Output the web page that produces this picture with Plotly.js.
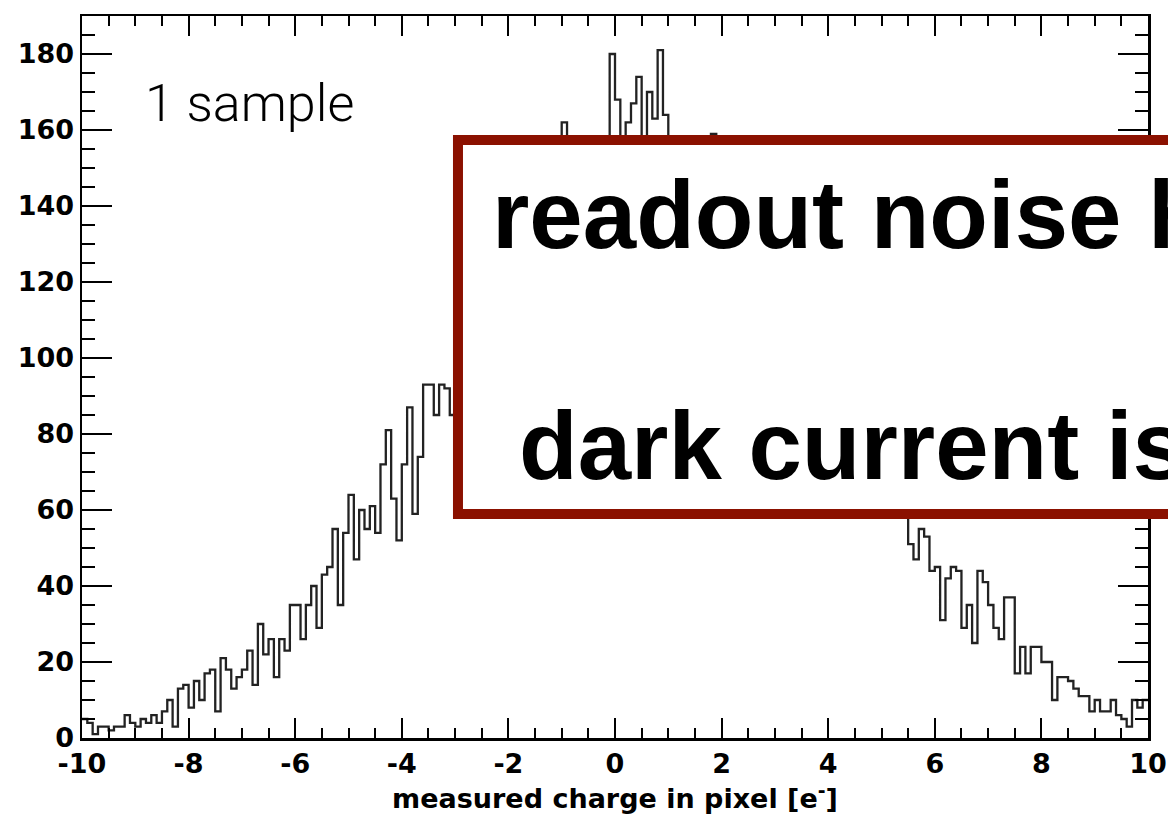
<!DOCTYPE html>
<html>
<head>
<meta charset="utf-8">
<script src="https://cdn.plot.ly/plotly-3.0.1.min.js"></script>
<style>
html,body{margin:0;padding:0;background:#fff;}
#chart{width:1168px;height:814px;}
</style>
</head>
<body>
<div id="chart"></div>
<script>
// Histogram definition: 200 bins from -10 to 10 e-
const binLow = -10;
const binHigh = 10;
// Counts per bin (left to right)
const counts = [
  5, 4, 1, 3, 3, 2, 3, 3, 6, 4,
  3, 5, 4, 6, 4, 7, 10, 3, 13, 14,
  8, 15, 10, 17, 18, 7, 21, 18, 13, 16,
  18, 23, 14, 30, 22, 26, 16, 26, 23, 35,
  35, 26, 35, 40, 29, 43, 45, 55, 35, 54,
  64, 47, 60, 55, 61, 54, 72, 81, 63, 52,
  72, 87, 59, 74, 93, 93, 85, 93, 92, 85,
  93, 96, 104, 99, 108, 112, 106, 118, 114, 122,
  127, 119, 131, 126, 136, 129, 141, 137, 145, 139,
  162, 143, 150, 147, 153, 144, 155, 149, 152, 180,
  168, 150, 162, 167, 174, 152, 170, 163, 181, 164,
  151, 146, 154, 143, 149, 140, 147, 138, 159, 144,
  135, 139, 128, 133, 124, 129, 117, 121, 112, 116,
  105, 109, 101, 97, 103, 92, 95, 88, 91, 83,
  86, 79, 82, 75, 77, 71, 74, 68, 70, 64,
  66, 61, 63, 58, 60, 51, 47, 55, 53, 44,
  45, 31, 42, 45, 44, 29, 35, 25, 44, 41,
  35, 29, 26, 37, 37, 17, 24, 17, 24, 24,
  20, 20, 10, 16, 16, 15, 13, 11, 11, 7,
  10, 7, 7, 10, 6, 5, 3, 10, 8, 10
];
// Tick labels (ASCII hyphen as in the reference)
const xTickVals = [-10, -8, -6, -4, -2, 0, 2, 4, 6, 8, 10];
const xTickText = ['-10', '-8', '-6', '-4', '-2', '0', '2', '4', '6', '8', '10'];
const yTickVals = [0, 20, 40, 60, 80, 100, 120, 140, 160, 180];
const yTickText = ['0', '20', '40', '60', '80', '100', '120', '140', '160', '180'];
const xTitle = 'measured charge in pixel [e<sup>-</sup>]';
const sampleLabel = '1 sample';
const boxLine1 = 'readout noise h';
const boxLine2 = 'dark current is';

const nBins = counts.length;
const width = (binHigh - binLow) / nBins;
const edges = [];
for (let i = 0; i <= nBins; i++) edges.push(binLow + i * width);
const stepY = counts.concat([counts[nBins - 1]]);

const tickFont = {family: 'DejaVu Sans', size: 27, color: '#000', weight: 'bold'};

const data = [{
  type: 'scatter',
  mode: 'lines',
  x: edges,
  y: stepY,
  line: {shape: 'hv', color: '#222', width: 2.3},
  hoverinfo: 'skip'
}];

const layout = {
  width: 1168,
  height: 814,
  margin: {l: 82, r: 20, t: 16, b: 76},
  paper_bgcolor: '#fff',
  plot_bgcolor: '#fff',
  showlegend: false,
  xaxis: {
    range: [binLow, binHigh],
    tickmode: 'array', tickvals: xTickVals, ticktext: xTickText,
    ticks: 'inside', ticklen: 20, tickwidth: 2, tickcolor: '#000',
    minor: {dtick: 0.5, tick0: 0, ticks: 'inside', ticklen: 10, tickwidth: 2, tickcolor: '#000', showgrid: false},
    showline: true, linewidth: 2.5, linecolor: '#000', mirror: 'allticks',
    showgrid: false, zeroline: false,
    tickfont: tickFont,
    title: {text: xTitle, font: {family: 'DejaVu Sans', size: 27, color: '#000', weight: 'bold'}, standoff: 2},
    automargin: false
  },
  yaxis: {
    range: [0, 190],
    tickmode: 'array', tickvals: yTickVals, ticktext: yTickText,
    ticks: 'inside', ticklen: 30, tickwidth: 2, tickcolor: '#000',
    minor: {dtick: 5, tick0: 0, ticks: 'inside', ticklen: 13, tickwidth: 2, tickcolor: '#000', showgrid: false},
    showline: true, linewidth: 2.5, linecolor: '#000', mirror: 'allticks',
    showgrid: false, zeroline: false,
    tickfont: tickFont,
    automargin: false
  },
  shapes: [{
    type: 'rect', xref: 'paper', yref: 'paper', layer: 'above',
    x0: 0.3527, x1: 1.2, y0: 0.3102, y1: 0.8283,
    line: {color: '#8B1100', width: 10},
    fillcolor: '#ffffff'
  }],
  annotations: [
    {xref: 'paper', yref: 'paper', x: 0.057, y: 0.8795, xanchor: 'left', yanchor: 'middle',
     text: sampleLabel, showarrow: false,
     font: {family: 'Roboto', size: 52, color: '#000', weight: 300}},
    {xref: 'paper', yref: 'paper', x: 0.383, y: 0.7244, xanchor: 'left', yanchor: 'middle',
     text: boxLine1, showarrow: false,
     font: {family: 'Liberation Sans', size: 96, color: '#000', weight: 'bold'}},
    {xref: 'paper', yref: 'paper', x: 0.408, y: 0.4058, xanchor: 'left', yanchor: 'middle',
     text: boxLine2, showarrow: false,
     font: {family: 'Liberation Sans', size: 96, color: '#000', weight: 'bold'}}
  ]
};

Plotly.newPlot('chart', data, layout, {displayModeBar: false, staticPlot: true});
</script>
</body>
</html>
